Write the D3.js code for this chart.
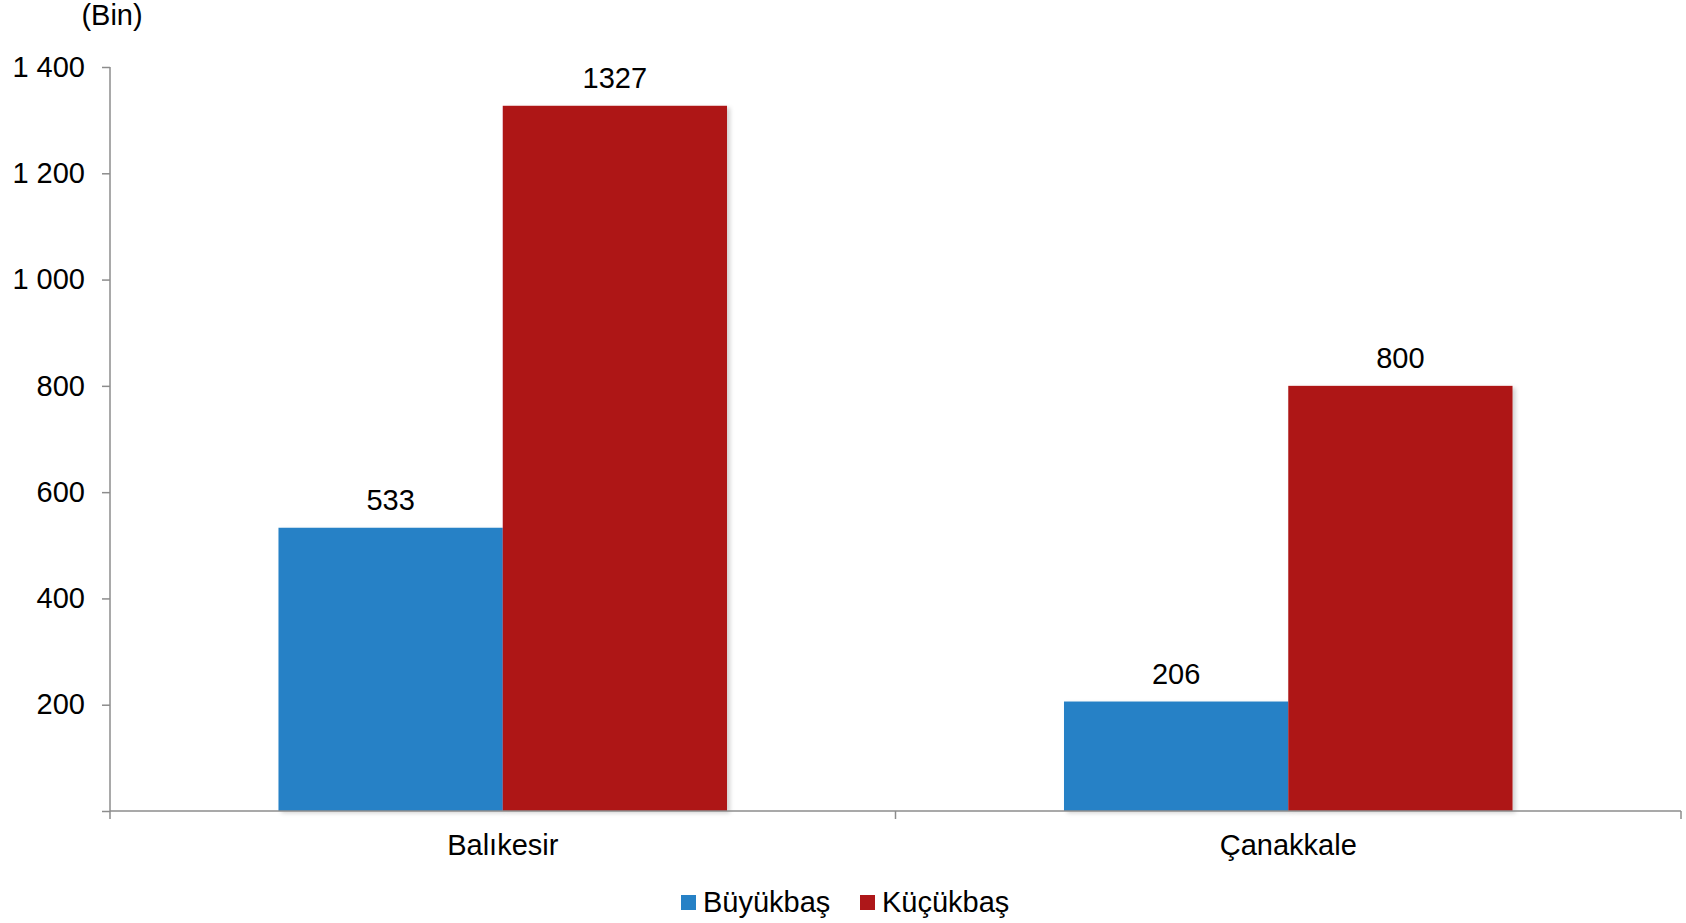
<!DOCTYPE html>
<html>
<head>
<meta charset="utf-8">
<script src="https://cdn.jsdelivr.net/npm/d3@7"></script>
<style>
  html, body { margin: 0; padding: 0; background: #fff; }
  text { font-family: "Liberation Sans", Arial, sans-serif; fill: #000; }
</style>
</head>
<body>
<svg id="chart" width="1686" height="923"></svg>
<script>
const categories = ["Balıkesir", "Çanakkale"];
const seriesNames = ["Büyükbaş", "Küçükbaş"];
const buyukbas = [533, 206];
const kucukbas = [1327, 800];
const yTicks = [200, 400, 600, 800, 1000, 1200, 1400];
const colors = ["#2681C6", "#AE1719"];
const unitLabel = "(Bin)";

const FS = 29;
const svg = d3.select("#chart");
const margin = { left: 110, right: 1686 - 1681, top: 67, bottom: 923 - 811 };
const W = 1686, H = 923;

const defs = svg.append("defs");
const f = defs.append("filter").attr("id", "shadow").attr("x", "-5%").attr("y", "-5%").attr("width", "115%").attr("height", "115%");
f.append("feDropShadow").attr("dx", 3).attr("dy", 2).attr("stdDeviation", 2).attr("flood-color", "#000").attr("flood-opacity", 0.18);

const x0 = d3.scaleBand().domain(categories).range([margin.left, W - margin.right]).padding(0);
const bw = x0.bandwidth();
const x1 = d3.scaleBand().domain(seriesNames).range([bw * 0.2145, bw * 0.7855]).padding(0);
const y = d3.scaleLinear().domain([0, 1400]).range([H - margin.bottom, margin.top]);

const data = categories.map((c, i) => ({ cat: c, values: [buyukbas[i], kucukbas[i]] }));

// bars
const groups = svg.append("g").selectAll("g").data(data).join("g")
  .attr("transform", d => `translate(${x0(d.cat)},0)`);
groups.selectAll("rect").data(d => d.values.map((v, j) => ({ v, s: seriesNames[j], j })))
  .join("rect")
  .attr("x", d => x1(d.s))
  .attr("y", d => y(d.v))
  .attr("width", x1.bandwidth())
  .attr("height", d => y(0) - y(d.v))
  .attr("fill", d => colors[d.j])
  .attr("filter", "url(#shadow)");

groups.selectAll("text.val").data(d => d.values.map((v, j) => ({ v, s: seriesNames[j] })))
  .join("text").attr("class", "val")
  .attr("x", d => x1(d.s) + x1.bandwidth() / 2)
  .attr("y", d => y(d.v) - 18)
  .attr("text-anchor", "middle")
  .attr("font-size", FS)
  .text(d => d.v);

// y axis
const fmt = d => d3.format(",")(d).replace(/,/g, " ");
const yAxis = svg.append("g").attr("transform", `translate(${margin.left},0)`)
  .call(d3.axisLeft(y).tickValues([0, ...yTicks]).tickSize(8).tickPadding(17).tickFormat(d => d === 0 ? "" : fmt(d)));
yAxis.selectAll("text").attr("font-size", FS).attr("font-family", '"Liberation Sans", Arial, sans-serif').attr("fill", "#000");
yAxis.selectAll("line, path").attr("stroke", "#8c8c8c").attr("stroke-width", 1.5);
yAxis.select("path").attr("d", `M0,${y(1400)}H0V${y(0)}`);

// x axis
const xAxis = svg.append("g").attr("transform", `translate(0,${y(0)})`)
  .call(d3.axisBottom(x0).tickSize(0).tickPadding(23));
xAxis.select("path").attr("d", `M${margin.left},0H${W - margin.right}`).attr("stroke", "#8c8c8c").attr("stroke-width", 1.5);
xAxis.selectAll("text").attr("font-size", FS).attr("font-family", '"Liberation Sans", Arial, sans-serif').attr("fill", "#000").attr("dy", "0.71em");
// category boundary ticks
const bounds = [margin.left, ...categories.map(c => x0(c) + bw)];
svg.append("g").selectAll("line").data(bounds).join("line")
  .attr("x1", d => d).attr("x2", d => d)
  .attr("y1", y(0)).attr("y2", y(0) + 8)
  .attr("stroke", "#8c8c8c").attr("stroke-width", 1.5);

// unit label
svg.append("text").attr("x", 112).attr("y", 25).attr("text-anchor", "middle").attr("font-size", FS).text(unitLabel);

// legend
const legend = svg.append("g");
const legX = [681, 860];
seriesNames.forEach((s, i) => {
  legend.append("rect").attr("x", legX[i]).attr("y", 895).attr("width", 15).attr("height", 15).attr("fill", colors[i]);
  legend.append("text").attr("x", legX[i] + 22).attr("y", 912).attr("font-size", FS).text(s);
});
</script>
</body>
</html>
